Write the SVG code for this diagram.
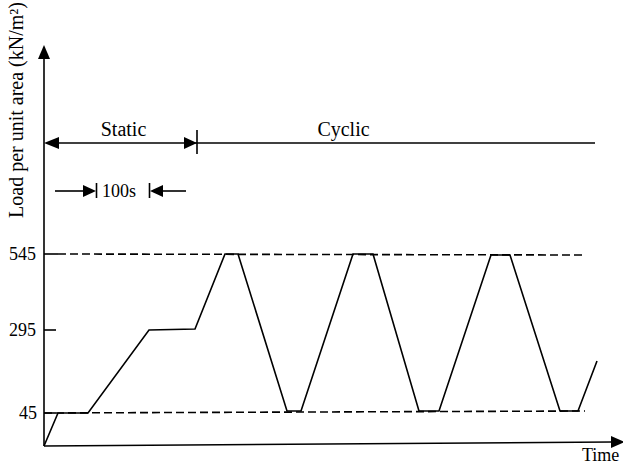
<svg xmlns="http://www.w3.org/2000/svg" width="623" height="467" viewBox="0 0 623 467">
<style>
.t{font-family:"Liberation Serif","Times New Roman",serif;fill:#000}
.ln{stroke:#000;stroke-width:1.6;fill:none}
.dash{stroke:#000;stroke-width:1.6;fill:none;stroke-dasharray:8 4}
.ah{fill:#000;stroke:none}
</style>
<rect width="623" height="467" fill="#fff"/>
<g id="axes">
<line class="ln" x1="44" y1="446" x2="44" y2="56"/>
<polygon class="ah" points="44,45 38,59 50,59"/>
<line class="ln" x1="44" y1="446" x2="612" y2="442"/>
<polygon class="ah" points="625,442 611,436 611,448"/>
<line class="ln" x1="44" y1="254" x2="58" y2="254"/>
<line class="ln" x1="44" y1="330" x2="56" y2="330"/>
<line class="ln" x1="44" y1="413" x2="56" y2="413"/>
<text class="t" x="36" y="260" font-size="18" text-anchor="end">545</text>
<text class="t" x="36" y="336" font-size="18" text-anchor="end">295</text>
<text class="t" x="37" y="419" font-size="18" text-anchor="end">45</text>
<text class="t" x="582" y="461" font-size="18">Time</text>
<text class="t" font-size="20" text-anchor="middle" transform="translate(23,110) rotate(-90)">Load per unit area (kN/m²)</text>
</g>
<g id="reference-lines">
<line class="dash" x1="58" y1="254" x2="582" y2="255"/>
<line class="dash" x1="44" y1="413" x2="585" y2="411"/>
</g>
<g id="load-curve">
<polyline class="ln" points="44,446 58,413 88,413 149,330 195,329 225,254 238,254 287,411 301,411 353,254 373,254 419,411 439,411 491,255 510,255 560,411 578,411 597,361"/>
</g>
<g id="phase-arrows">
<line class="ln" x1="56" y1="143" x2="595" y2="143"/>
<polygon class="ah" points="44,143 59,137 59,149"/>
<polygon class="ah" points="197,143 184,137 184,149"/>
<line class="ln" x1="197" y1="130" x2="197" y2="154"/>
<text class="t" x="123.5" y="136" font-size="20" text-anchor="middle">Static</text>
<text class="t" x="343.5" y="136" font-size="20" text-anchor="middle">Cyclic</text>
</g>
<g id="interval-arrows">
<line class="ln" x1="55" y1="191" x2="86" y2="191"/>
<polygon class="ah" points="96,191 83,185 83,197"/>
<line class="ln" x1="96.5" y1="183" x2="96.5" y2="198"/>
<line class="ln" x1="160" y1="191" x2="186" y2="191"/>
<polygon class="ah" points="150,191 163,185 163,197"/>
<line class="ln" x1="149.5" y1="183" x2="149.5" y2="198"/>
<text class="t" x="102" y="197" font-size="18">100s</text>
</g>
</svg>
